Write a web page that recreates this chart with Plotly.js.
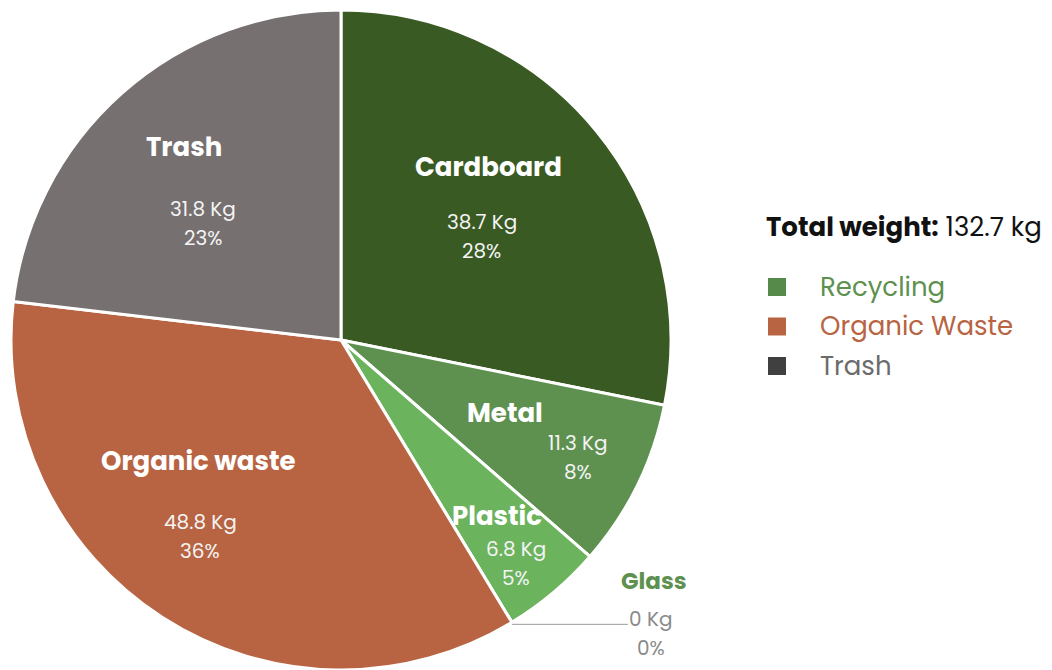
<!DOCTYPE html>
<html><head><meta charset="utf-8">
<script src="https://cdn.plot.ly/plotly-3.0.1.min.js"></script>
<style>html,body{margin:0;padding:0;background:#fff}#chart{width:1052px;height:670px}</style>
</head><body><div id="chart"></div>
<script>
// ---- data ----
const categories = ['Cardboard', 'Metal', 'Plastic', 'Glass', 'Organic waste', 'Trash'];
const weightsKg = [38.7, 11.3, 6.8, 0, 48.8, 31.8];
const sliceGroups = ['Recycling', 'Recycling', 'Recycling', 'Recycling', 'Organic Waste', 'Trash'];
const legendGroups = ['Recycling', 'Organic Waste', 'Trash'];
const totalWeightKg = 132.7;

// ---- styling ----
const sliceColors = ['#3a5a24', '#5e9150', '#6cb35e', '#6cb35e', '#b86443', '#767070'];
const legendColors = ['#558a4a', '#b86443', '#404040'];
const legendTextColors = ['#5e9150', '#b86443', '#6b6b6b'];
const labelR = [0.53, 0.80, 0.86, 1.0, 0.73, 0.55];
const angleNudge = [3, 0, 2, 0, 3, -8];
const nameDx = [7, -73, -19, 0, -2, -19];
const nameDy = [-69, -44, -47, 0, -75, -76];

const W = 1052, H = 670;
const domX = [11 / W, 671 / W], domY = [0, 1 - 10 / H];
const cx = (domX[0] + domX[1]) / 2 * W;
const cy = H - (domY[0] + domY[1]) / 2 * H;
const R = Math.min((domX[1] - domX[0]) * W, (domY[1] - domY[0]) * H) / 2;
const total = weightsKg.reduce((a, b) => a + b, 0);
const FONT = 'Poppins, Inter, "Noto Sans", sans-serif';

const px = x => x / W, py = y => 1 - y / H;

const annotations = [];
const shapes = [];
let cum = 0;
weightsKg.forEach((v, i) => {
  const start = cum / total;
  cum += v;
  const frac = v / total;
  const pct = Math.round(frac * 100) + '%';
  if (v === 0) {
    // leader line from slice boundary
    const a = start * 2 * Math.PI;
    const x0 = cx + R * Math.sin(a), y0 = cy - R * Math.cos(a) + 2;
    const x1 = x0 + 116;
    shapes.push({type: 'line', xref: 'paper', yref: 'paper', x0: px(x0), y0: py(y0), x1: px(x1), y1: py(y0),
      line: {color: '#9a9a9a', width: 1}});
    annotations.push({xref: 'paper', yref: 'paper', x: px(x1 + 26), y: py(y0 - 43), text: '<b>' + categories[i] + '</b>',
      showarrow: false, xanchor: 'center', yanchor: 'middle', font: {family: FONT, size: 23, color: '#5e9150'}});
    annotations.push({xref: 'paper', yref: 'paper', x: px(x1 + 23), y: py(y0 - 5), text: v + ' Kg',
      showarrow: false, xanchor: 'center', yanchor: 'middle', font: {family: FONT, size: 20, color: '#8a8a8a'}});
    annotations.push({xref: 'paper', yref: 'paper', x: px(x1 + 23), y: py(y0 + 24), text: pct,
      showarrow: false, xanchor: 'center', yanchor: 'middle', font: {family: FONT, size: 20, color: '#8a8a8a'}});
    return;
  }
  const mid = (start + frac / 2) * 360 + angleNudge[i];
  const a = mid * Math.PI / 180;
  const bx = cx + labelR[i] * R * Math.sin(a);
  const by = cy - labelR[i] * R * Math.cos(a);
  annotations.push({xref: 'paper', yref: 'paper', x: px(bx + nameDx[i]), y: py(by + nameDy[i]), text: '<b>' + categories[i] + '</b>',
    showarrow: false, xanchor: 'center', yanchor: 'middle', font: {family: FONT, size: 26, color: '#ffffff'}});
  annotations.push({xref: 'paper', yref: 'paper', x: px(bx), y: py(by - 14), text: v + ' Kg',
    showarrow: false, xanchor: 'center', yanchor: 'middle', font: {family: FONT, size: 20, color: '#f4f4f4'}});
  annotations.push({xref: 'paper', yref: 'paper', x: px(bx), y: py(by + 15), text: pct,
    showarrow: false, xanchor: 'center', yanchor: 'middle', font: {family: FONT, size: 20, color: '#f4f4f4'}});
});

// custom legend
annotations.push({xref: 'paper', yref: 'paper', x: px(764), y: py(227), xanchor: 'left', yanchor: 'middle', showarrow: false,
  text: '<b>Total weight:</b> ' + totalWeightKg + ' kg', font: {family: FONT, size: 26, color: '#111111'}});
legendGroups.forEach((g, k) => {
  const yc = 287 + k * 39.5;
  shapes.push({type: 'rect', xref: 'paper', yref: 'paper', x0: px(768), x1: px(786), y0: py(yc - 9), y1: py(yc + 9),
    fillcolor: legendColors[k], line: {width: 0}});
  annotations.push({xref: 'paper', yref: 'paper', x: px(818), y: py(yc), xanchor: 'left', yanchor: 'middle', showarrow: false,
    text: g, font: {family: FONT, size: 26, color: legendTextColors[k]}});
});

const trace = {
  type: 'pie',
  labels: categories,
  values: weightsKg,
  customdata: sliceGroups,
  sort: false,
  direction: 'clockwise',
  rotation: 0,
  textinfo: 'none',
  hoverinfo: 'label+value+percent',
  marker: {colors: sliceColors, line: {color: '#ffffff', width: 3}},
  domain: {x: domX, y: domY},
  showlegend: false
};

Plotly.newPlot('chart', [trace], {
  width: W, height: H,
  margin: {l: 0, r: 0, t: 0, b: 0},
  paper_bgcolor: '#ffffff',
  showlegend: false,
  annotations: annotations,
  shapes: shapes
}, {displayModeBar: false, staticPlot: true});
</script>
</body></html>
